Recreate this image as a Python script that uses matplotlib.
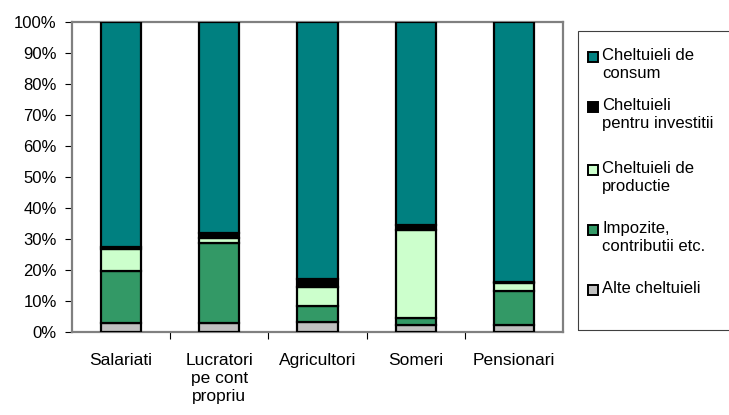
import numpy as np
import matplotlib
matplotlib.use('Agg')
import matplotlib.pyplot as plt
from matplotlib.patches import Rectangle

# categorii si structura cheltuielilor (%)
categories = ['Salariati', 'Lucratori\npe cont\npropriu', 'Agricultori', 'Someri', 'Pensionari']
series_names = ['Alte cheltuieli', 'Impozite,\ncontributii etc.', 'Cheltuieli de\nproductie',
                'Cheltuieli\npentru investitii', 'Cheltuieli de\nconsum']
alte = [3.0, 2.8, 3.1, 2.2, 2.4]
impozite = [16.8, 25.8, 5.3, 2.3, 10.8]
productie = [6.9, 1.7, 6.0, 28.3, 2.6]
investitii = [0.8, 1.5, 2.6, 1.6, 0.3]
consum = [72.5, 68.2, 83.0, 65.6, 83.9]
colors = ['#C0C0C0', '#339966', '#CCFFCC', '#000000', '#008080']

plt.rcParams['font.family'] = ['Liberation Sans', 'DejaVu Sans']

fig = plt.figure(figsize=(7.29, 4.15), dpi=100)
ax = fig.add_axes([72/729, 1-332/415, (563-72)/729, (332-22)/415])

x = np.arange(len(categories))
series = [alte, impozite, productie, investitii, consum]
bottom = np.zeros(len(categories))
for vals, col, name in zip(series, colors, series_names):
    ax.bar(x, vals, width=0.41, bottom=bottom, color=col, edgecolor='black',
           linewidth=1.6, label=name, zorder=3)
    bottom += np.array(vals)

ax.set_xlim(-0.5, len(categories) - 0.5)
ax.set_ylim(0, 100)
ax.set_yticks(np.arange(0, 101, 10))
ax.set_yticklabels([f'{v}%' for v in range(0, 101, 10)], fontsize=12)
ax.set_xticks(x)
ax.set_xticklabels(categories, fontsize=12.5, linespacing=1.25, va='top')
ax.tick_params(axis='x', length=0, pad=15)
ax.set_xticks(np.arange(0.5, len(categories) - 1, 1), minor=True)
ax.tick_params(axis='x', which='minor', length=5, width=0.8, direction='out')
ax.tick_params(axis='y', length=5, width=0.8, direction='out', pad=6)

for s in ax.spines.values():
    s.set_color('#808080')
    s.set_linewidth(1.6)

# legenda
fig.patches.append(Rectangle((578/729, 1-330/415), 0.4, (330-31)/415,
                             transform=fig.transFigure, fill=False,
                             edgecolor='#404040', linewidth=0.8))
leg_y = [57, 107, 170, 230, 290]
for name, col, yy in zip(series_names[::-1], colors[::-1], leg_y):
    fig.patches.append(Rectangle((588/729, 1-(yy+5)/415), 10/729, 10/415,
                                 transform=fig.transFigure, facecolor=col,
                                 edgecolor='black', linewidth=1.4))
    fig.text(602/729, 1-(yy-9)/415, name, fontsize=12, va='top', ha='left',
             linespacing=1.25)

fig.savefig('out.png', dpi=100)
